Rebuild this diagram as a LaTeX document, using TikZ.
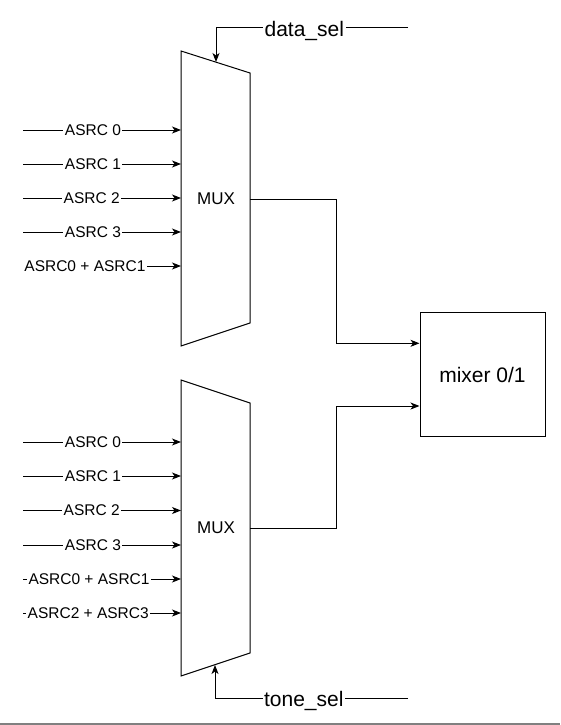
\documentclass[tikz,border=0pt]{standalone}
\usepackage{fontspec}
\setmainfont{Liberation Sans}
\usetikzlibrary{arrows.meta,positioning}

\begin{document}
\begin{tikzpicture}[x=1pt,y=-1pt,->,>={Stealth[length=9pt,width=7pt,inset=2.5pt]},
		line width=1pt]
		\tikzstyle{lbl}=[fill=white,inner sep=1.5pt,font=\fontsize{15.5}{18}\selectfont]
		\tikzstyle{big}=[fill=white,inner sep=1.5pt,font=\fontsize{21}{24}\selectfont]
		\tikzstyle{mux}=[-,line width=1pt]
		\useasboundingbox (0,0) rectangle (560,725);
		
		% the two multiplexers
		\draw[mux] (181,51) -- (250,73) -- (250,323) -- (181,346) -- cycle;
		\draw[mux] (181,380) -- (250,403) -- (250,653) -- (181,676) -- cycle;
		\node[font=\fontsize{17}{20}\selectfont] (M1) at (216,199) {MUX};
		\node[font=\fontsize{17}{20}\selectfont] (M2) at (216,528) {MUX};
		
		\node[draw,minimum width=125pt,minimum height=124pt,font=\fontsize{21}{24}\selectfont] (X) at (482.5,374.7) {mixer 0/1};
		
		% inputs
		\foreach \y/\t/\p [count=\i] in {130/ASRC 0/0.443, 164/ASRC 1/0.443, 198/ASRC 2/0.435,
			232/ASRC 3/0.443, 266/ASRC0 + ASRC1/0.392}
		{
			\coordinate (a\i) at (23,\y);
			\coordinate (b\i) at (181,\y);
			\draw (a\i) -- node[lbl,pos=\p] {\t} (b\i);
		}
		\foreach \y/\t/\p [count=\i] in {442/ASRC 0/0.443, 476/ASRC 1/0.443, 510.5/ASRC 2/0.435,
			545/ASRC 3/0.443, 579/ASRC0 + ASRC1/0.418, 613/ASRC2 + ASRC3/0.413}
		{
			\coordinate (c\i) at (23,\y);
			\coordinate (d\i) at (181,\y);
			\draw (c\i) -- node[lbl,pos=\p] {\t} (d\i);
		}
		
		% select lines
		\coordinate (S1) at (408,28);
		\coordinate (S2) at (216,28);
		\coordinate (S3) at (216,62);
		\draw (S1) -- node[big,anchor=base,yshift=-8.6pt,pos=0.54] {data\_sel} (S2) -- (S3);
		\coordinate (T1) at (408,698);
		\coordinate (T2) at (215,698);
		\coordinate (T3) at (215,665);
		\draw (T1) -- node[big,anchor=base,yshift=-8.6pt,pos=0.54] {tone\_sel} (T2) -- (T3);
		
		% outputs to the mixer
		\coordinate (O1) at (250,199);
		\coordinate (O2) at (250,528);
		\draw (O1) -- ++(86,0) |- ([yshift=31.4pt]X.west);
		\draw (O2) -- ++(86,0) |- ([yshift=-31.3pt]X.west);
		
		\draw[-,gray,line width=2pt] (0,723.5) -- (560,723.5);
		\end{tikzpicture}
\end{document}
